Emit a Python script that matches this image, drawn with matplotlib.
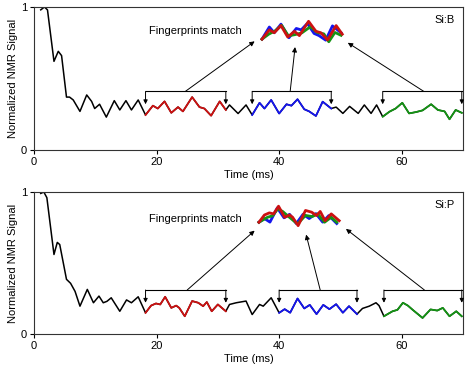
import matplotlib
matplotlib.use('Agg')
import matplotlib.pyplot as plt
import numpy as np

plt.rcParams['font.family'] = ['Liberation Sans', 'DejaVu Sans']

# ---------------- data ----------------
t_top = [1.1, 1.7, 2.2, 3.26, 3.96, 4.5, 5.3, 5.8, 6.4, 7.5, 8.6, 9.4, 9.9, 10.7, 11.8,
         13.1, 14.0, 15.0, 15.9, 17.0, 18.2, 19.4, 20.2, 21.3, 22.4, 23.5, 24.3, 25.8,
         27.0, 27.8, 28.9, 30.3, 31.3, 31.9, 33.3, 34.6, 35.6, 36.8, 37.6, 38.7, 40.0,
         41.2, 42.0, 43.0, 44.1, 44.9, 46.0, 47.1, 48.5, 49.3, 50.4, 51.5, 52.9, 53.9,
         55.0, 55.9, 56.9, 58.0, 59.0, 60.1, 61.2, 62.3, 63.4, 64.8, 65.9, 67.0, 67.8,
         68.8, 69.8]
v_top = [0.98, 1.0, 0.98, 0.62, 0.69, 0.66, 0.37, 0.37, 0.35, 0.27, 0.385, 0.34, 0.29, 0.32, 0.23,
         0.345, 0.28, 0.345, 0.28, 0.35, 0.245, 0.31, 0.29, 0.34, 0.26, 0.30, 0.27, 0.37,
         0.30, 0.29, 0.24, 0.34, 0.28, 0.315, 0.255, 0.315, 0.245, 0.33, 0.29, 0.35, 0.255,
         0.32, 0.31, 0.355, 0.285, 0.27, 0.238, 0.338, 0.29, 0.30, 0.256, 0.305, 0.256, 0.315,
         0.256, 0.315, 0.233, 0.268, 0.29, 0.33, 0.256, 0.265, 0.277, 0.32, 0.28, 0.27, 0.215,
         0.28, 0.26]

t_bot = [1.1, 1.6, 2.1, 3.26, 3.8, 4.2, 5.3, 5.97, 6.7, 7.5, 8.7, 9.7, 10.6, 11.3, 11.9,
         12.6, 14.0, 15.1, 15.9, 17.0, 18.2, 19.1, 19.9, 20.6, 21.4, 22.4, 23.2, 23.7,
         24.6, 25.8, 26.8, 27.6, 28.2, 29.0, 30.0, 31.3, 31.9, 33.0, 34.6, 35.6, 36.8,
         37.4, 38.7, 40.0, 40.9, 41.8, 43.0, 44.1, 45.0, 46.1, 47.2, 48.2, 49.3, 50.4,
         51.4, 52.7, 53.6, 54.7, 55.8, 56.3, 57.1, 58.5, 59.3, 60.2, 61.0, 61.8, 63.4,
         64.7, 65.8, 66.7, 67.8, 68.9, 69.8]
v_bot = [0.99, 1.0, 0.96, 0.56, 0.645, 0.63, 0.385, 0.357, 0.30, 0.196, 0.314, 0.22, 0.267, 0.22, 0.23,
         0.255, 0.16, 0.24, 0.22, 0.262, 0.149, 0.20, 0.215, 0.208, 0.262, 0.184, 0.20, 0.184,
         0.125, 0.232, 0.22, 0.196, 0.225, 0.16, 0.208, 0.16, 0.208, 0.22, 0.232, 0.137, 0.208,
         0.196, 0.255, 0.149, 0.175, 0.15, 0.25, 0.18, 0.205, 0.14, 0.205, 0.175, 0.21, 0.15,
         0.196, 0.14, 0.18, 0.196, 0.22, 0.20, 0.125, 0.16, 0.17, 0.22, 0.20, 0.17, 0.113,
         0.173, 0.165, 0.184, 0.125, 0.16, 0.125]

seg_names = ['blue', 'green', 'red']
seg_top = {'red': (18.2, 31.3), 'blue': (35.6, 48.5), 'green': (56.9, 69.8)}
seg_bot = {'red': (18.2, 31.3), 'blue': (40.0, 52.7), 'green': (57.1, 69.8)}
colors = {'red': '#cc1111', 'blue': '#1515ee', 'green': '#149414'}

panels = [
    dict(t=t_top, v=v_top, seg=seg_top, label='Si:B', inset=(37.2, 0.775),
         bracket_y=0.41, tip_y=0.32, text_y=0.83,
         arrows=[((24.7, 0.41), (36.0, 0.76)), ((41.8, 0.41), (42.6, 0.72)),
                 ((63.6, 0.41), (51.2, 0.75))],
         rect=[34 / 471, 220 / 370, 429 / 471, 143 / 370]),
    dict(t=t_bot, v=v_bot, seg=seg_bot, label='Si:P', inset=(36.7, 0.787),
         bracket_y=0.31, tip_y=0.22, text_y=0.81,
         arrows=[((25.0, 0.31), (36.0, 0.728)), ((46.7, 0.31), (44.4, 0.70)),
                 ((63.7, 0.31), (50.9, 0.74))],
         rect=[34 / 471, 36 / 370, 429 / 471, 142 / 370]),
]

fig = plt.figure(figsize=(4.71, 3.70), dpi=100)

for p in panels:
    ax = fig.add_axes(p['rect'])
    t = np.array(p['t'])
    v = np.array(p['v'])
    ax.plot(t, v, color='black', lw=1.1, solid_joinstyle='round')
    ix0, iy0 = p['inset']
    for name in ['red', 'blue', 'green']:
        s0, s1 = p['seg'][name]
        m = (t >= s0 - 1e-9) & (t <= s1 + 1e-9)
        ax.plot(t[m], v[m], color=colors[name], lw=1.3, solid_joinstyle='round')
    for name in seg_names:
        s0, s1 = p['seg'][name]
        m = (t >= s0 - 1e-9) & (t <= s1 + 1e-9)
        ts, vs = t[m], v[m]
        ax.plot(ts - ts[0] + ix0, vs - vs[0] + iy0, color=colors[name], lw=2.0,
                solid_joinstyle='round')
        # bracket
        by = p['bracket_y']
        ax.plot([s0, s1], [by, by], color='black', lw=0.8, clip_on=False)
        for xe in (s0, s1):
            ax.annotate('', xy=(xe, p['tip_y']), xytext=(xe, by),
                        arrowprops=dict(arrowstyle='-|>', lw=0.7, color='black',
                                        mutation_scale=6, shrinkA=0, shrinkB=0),
                        annotation_clip=False)
    for (xa, ya), (xb, yb) in p['arrows']:
        ax.annotate('', xy=(xb, yb), xytext=(xa, ya),
                    arrowprops=dict(arrowstyle='-|>', lw=0.7, color='black',
                                    mutation_scale=7, shrinkA=0, shrinkB=0))
    ax.text(18.7, p['text_y'], 'Fingerprints match', fontsize=8, ha='left', va='center')
    ax.text(0.981, 0.91, p['label'], transform=ax.transAxes, fontsize=8,
            ha='right', va='center')
    ax.set_xlim(0, 70)
    ax.set_ylim(0, 1)
    ax.set_xticks([0, 20, 40, 60])
    ax.set_yticks([0, 1])
    ax.set_yticklabels(['0', '1'])
    ax.tick_params(direction='out', length=3, width=0.8, labelsize=8, pad=2)
    for sp in ax.spines.values():
        sp.set_linewidth(0.8)
        sp.set_color('#333333')
    ax.set_xlabel('Time (ms)', fontsize=8, labelpad=2)
    ax.set_ylabel('Normalized NMR Signal', fontsize=8, labelpad=2)

fig.savefig('out.png', dpi=100)
